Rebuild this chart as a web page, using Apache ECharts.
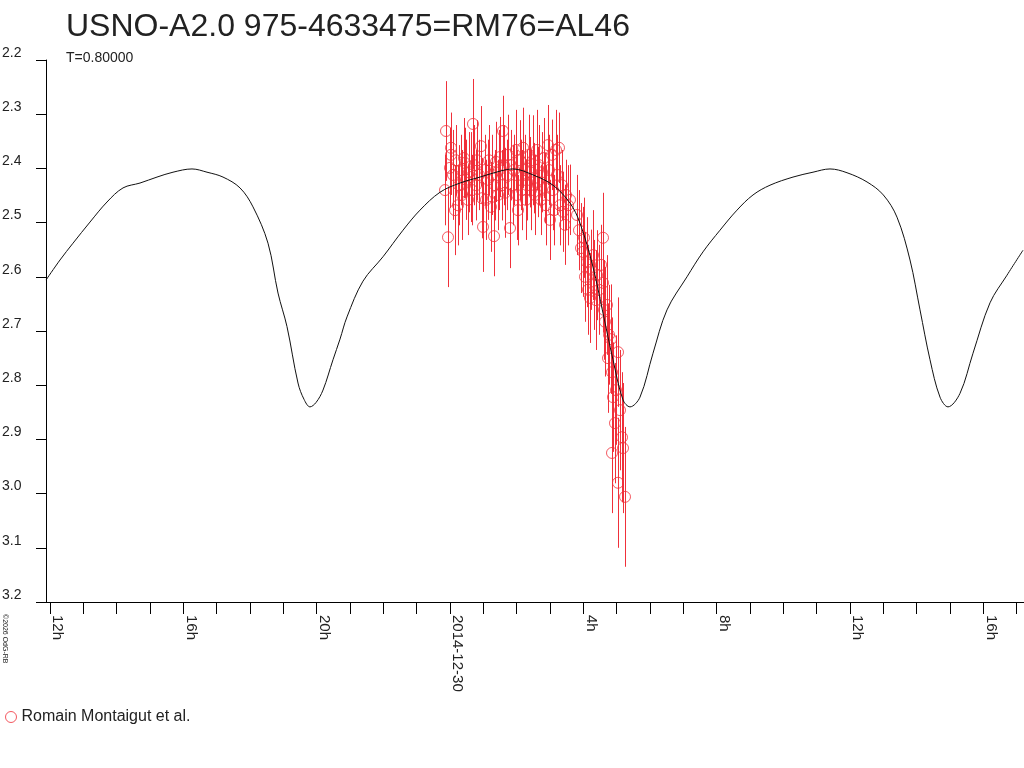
<!DOCTYPE html>
<html>
<head>
<meta charset="utf-8">
<title>USNO-A2.0 975-4633475 light curve</title>
<script src="https://cdn.jsdelivr.net/npm/echarts@6/dist/echarts.min.js"></script>
<style>
  html, body { margin: 0; padding: 0; background: #fff; }
  #main { width: 1024px; height: 768px; }
</style>
</head>
<body>
<div id="main"></div>
<script>
// time in hours since 2014-12-29 00:00 UT, magnitudes

// model light curve
var modelTime = [11.88, 12.30, 12.69, 13.20, 13.71, 14.19, 14.70, 15.21, 15.69, 16.26,
  16.71, 17.19, 17.70, 18.09, 18.54, 18.84, 19.11, 19.44, 19.62, 19.80,
  19.98, 20.19, 20.49, 20.70, 20.91, 21.39, 21.99, 22.59, 23.10, 23.70,
  24.30, 24.90, 25.50, 25.89, 26.49, 27.09, 27.60, 27.90, 28.29, 28.59,
  28.89, 29.19, 29.40, 29.70, 30.09, 30.51, 31.11, 31.59, 32.10, 32.61,
  33.09, 33.60, 34.29, 34.89, 35.40, 35.91, 36.51, 37.00, 37.41, 37.80,
  38.10, 38.40, 38.70, 38.94, 39.30, 39.69, 40.20, 40.71, 41.19];
var modelMag = [2.606, 2.569, 2.538, 2.499, 2.462, 2.436, 2.427, 2.416, 2.407, 2.401,
  2.407, 2.416, 2.436, 2.471, 2.538, 2.630, 2.692, 2.796, 2.826, 2.840,
  2.832, 2.809, 2.753, 2.715, 2.674, 2.608, 2.563, 2.514, 2.477, 2.444,
  2.427, 2.416, 2.405, 2.401, 2.412, 2.431, 2.464, 2.501, 2.582, 2.667,
  2.753, 2.827, 2.840, 2.822, 2.741, 2.661, 2.600, 2.554, 2.514, 2.477,
  2.449, 2.431, 2.416, 2.407, 2.401, 2.408, 2.425, 2.449, 2.490, 2.569,
  2.661, 2.753, 2.822, 2.840, 2.815, 2.741, 2.648, 2.597, 2.551];

// observations (Romain Montaigut et al.)
var obsTime = [23.85, 23.88, 23.94, 24.00, 24.03, 24.03, 24.09, 24.15, 24.18, 24.24,
  24.27, 24.33, 24.36, 24.42, 24.45, 24.48, 24.54, 24.57, 24.63, 24.66,
  24.69, 24.72, 24.78, 24.81, 24.87, 24.93, 24.96, 24.99, 25.05, 25.08,
  25.14, 25.17, 25.23, 25.26, 25.32, 25.35, 25.38, 25.44, 25.47, 25.50,
  25.56, 25.59, 25.62, 25.65, 25.71, 25.74, 25.80, 25.83,
  25.89, 25.92, 25.98, 26.01, 26.04, 26.10, 26.13, 26.16, 26.19, 26.25,
  26.28, 26.31, 26.37, 26.40, 26.43, 26.49, 26.52, 26.55, 26.61, 26.64,
  26.67, 26.73, 26.76, 26.82, 26.85, 26.88, 26.94, 26.97, 27.00, 27.06,
  27.09, 27.12, 27.18, 27.21, 27.27, 27.30, 27.36, 27.39, 27.45, 27.48,
  27.54, 27.60,
  27.81, 27.87, 27.93, 27.99, 28.02, 28.05, 28.11, 28.14, 28.20, 28.23,
  28.29, 28.32, 28.38, 28.41, 28.47, 28.53, 28.59, 28.59, 28.62, 28.65,
  28.71, 28.74, 28.77, 28.83, 28.86, 28.86, 28.89, 28.95, 28.98, 29.04,
  29.04, 29.10, 29.16, 29.19, 29.25];
var obsMag = [2.440, 2.331, 2.527, 2.399, 2.362, 2.375, 2.412, 2.477, 2.385, 2.468,
  2.431, 2.403, 2.449, 2.381, 2.390, 2.421, 2.458, 2.407, 2.416, 2.440,
  2.318, 2.394, 2.431, 2.385, 2.412, 2.359, 2.455, 2.508, 2.403, 2.458,
  2.421, 2.385, 2.471, 2.412, 2.525, 2.431, 2.388, 2.449, 2.403, 2.379,
  2.431, 2.331, 2.394, 2.445, 2.412, 2.375, 2.510, 2.394,
  2.431, 2.403, 2.366, 2.449, 2.477, 2.385, 2.412, 2.440, 2.362, 2.403,
  2.458, 2.431, 2.375, 2.407, 2.440, 2.385, 2.418, 2.449, 2.366, 2.425,
  2.394, 2.458, 2.407, 2.381, 2.436, 2.468, 2.357, 2.403, 2.495, 2.375,
  2.440, 2.477, 2.366, 2.412, 2.362, 2.468, 2.431, 2.480, 2.504, 2.449,
  2.468, 2.458,
  2.486, 2.514, 2.547, 2.554, 2.528, 2.600, 2.573, 2.624, 2.639, 2.587,
  2.560, 2.615, 2.643, 2.597, 2.624, 2.578, 2.528, 2.611, 2.661, 2.683,
  2.652, 2.750, 2.707, 2.715, 2.776, 2.925, 2.822, 2.870, 2.809, 2.739,
  2.980, 2.846, 2.896, 2.916, 3.006];
var obsErr = [0.065, 0.092, 0.092, 0.074, 0.065, 0.074, 0.083, 0.083, 0.065, 0.074,
  0.074, 0.065, 0.083, 0.074, 0.065, 0.074, 0.065, 0.074, 0.083, 0.065,
  0.083, 0.074, 0.065, 0.074, 0.065, 0.074, 0.074, 0.083, 0.065, 0.074,
  0.074, 0.065, 0.083, 0.074, 0.074, 0.065, 0.074, 0.065, 0.074, 0.074,
  0.065, 0.065, 0.074, 0.083, 0.065, 0.074, 0.074, 0.065,
  0.074, 0.065, 0.074, 0.083, 0.065, 0.074, 0.065, 0.074, 0.074, 0.065,
  0.074, 0.065, 0.074, 0.065, 0.074, 0.083, 0.065, 0.074, 0.074, 0.065,
  0.074, 0.065, 0.074, 0.074, 0.065, 0.074, 0.074, 0.065, 0.074, 0.065,
  0.074, 0.065, 0.074, 0.074, 0.065, 0.074, 0.065, 0.074, 0.074, 0.065,
  0.074, 0.065,
  0.074, 0.074, 0.083, 0.083, 0.074, 0.083, 0.083, 0.083, 0.083, 0.074,
  0.083, 0.083, 0.092, 0.083, 0.083, 0.074, 0.083, 0.092, 0.092, 0.101,
  0.092, 0.101, 0.092, 0.101, 0.101, 0.111, 0.101, 0.111, 0.101, 0.101,
  0.120, 0.111, 0.120, 0.120, 0.129];

var labelHours = [12, 16, 20, 24, 28, 32, 36, 40];

var obsColor = '#f0303a';
var fontName = '"Liberation Sans", Arial, sans-serif';

var obsData = [], barData = [], modelData = [];
for (var i = 0; i < obsTime.length; i++) {
  obsData.push([obsTime[i], obsMag[i]]);
  barData.push([obsTime[i], obsMag[i], obsErr[i]]);
}
for (var i = 0; i < modelTime.length; i++) {
  modelData.push([modelTime[i], modelMag[i]]);
}

function hourLabel(v) {
  var r = Math.round(v);
  if (Math.abs(v - r) > 1e-6 || labelHours.indexOf(r) < 0) return '';
  if (r === 24) return '2014-12-30';
  return (r % 24) + 'h';
}

var chart = echarts.init(document.getElementById('main'));
chart.setOption({
  animation: false,
  backgroundColor: '#fff',
  textStyle: { fontFamily: fontName },
  title: [
    {
      text: 'USNO-A2.0 975-4633475=RM76=AL46',
      left: 66, top: 11, padding: 0,
      textStyle: { fontSize: 32, fontWeight: 'normal', color: '#222', fontFamily: fontName }
    },
    {
      text: 'T=0.80000',
      left: 66, top: 51, padding: 0,
      textStyle: { fontSize: 14, fontWeight: 'normal', color: '#222', fontFamily: fontName }
    }
  ],
  legend: {
    left: 0, top: 704,
    itemWidth: 11, itemHeight: 11,
    textStyle: { fontSize: 16, color: '#222', fontFamily: fontName },
    data: [{
      name: 'Romain Montaigut et al.',
      icon: 'circle',
      itemStyle: { color: 'transparent', borderColor: obsColor, borderWidth: 1 }
    }]
  },
  graphic: [{
    type: 'text',
    x: 1, y: 614,
    rotation: -Math.PI / 2,
    style: { text: '©2026 OdG-RB', fontSize: 7, fill: '#222', fontFamily: fontName, verticalAlign: 'bottom' }
  }],
  grid: { left: 46, right: 0, top: 60, bottom: 166, outerBoundsMode: 'none' },
  xAxis: {
    type: 'value',
    min: 11.88, max: 41.22,
    splitNumber: 30, minInterval: 1, maxInterval: 1,
    axisLine: { lineStyle: { color: '#000', width: 1 } },
    axisTick: { length: 12, lineStyle: { color: '#000', width: 1 } },
    splitLine: { show: false },
    axisLabel: {
      rotate: -90, margin: 13, align: 'left', verticalAlign: 'bottom',
      showMinLabel: false, showMaxLabel: false,
      fontSize: 15, color: '#222', fontFamily: fontName,
      formatter: hourLabel
    }
  },
  yAxis: {
    type: 'value',
    inverse: true,
    min: 2.2, max: 3.2, interval: 0.1,
    axisLine: { show: true, lineStyle: { color: '#000', width: 1 } },
    axisTick: { show: true, length: 10, lineStyle: { color: '#000', width: 1 } },
    splitLine: { show: false },
    axisLabel: {
      margin: 44, align: 'left', verticalAlign: 'bottom',
      fontSize: 14, color: '#222', fontFamily: fontName,
      formatter: function (v) { return v.toFixed(1); }
    }
  },
  series: [
    {
      name: 'errbars',
      type: 'custom',
      z: 1,
      silent: true,
      data: barData,
      renderItem: function (params, api) {
        var t = api.value(0), m = api.value(1), e = api.value(2);
        var p1 = api.coord([t, m - e]);
        var p2 = api.coord([t, m + e]);
        var x = Math.round(p1[0]) + 0.5;
        return {
          type: 'line',
          shape: { x1: x, y1: p1[1], x2: x, y2: p2[1] },
          style: { stroke: obsColor, lineWidth: 1 }
        };
      }
    },
    {
      name: 'Romain Montaigut et al.',
      type: 'scatter',
      z: 2,
      symbol: 'circle',
      symbolSize: 11,
      itemStyle: { color: 'transparent', borderColor: obsColor, borderWidth: 1 },
      data: obsData
    },
    {
      name: 'model',
      type: 'line',
      z: 3,
      showSymbol: false,
      symbol: 'none',
      smooth: 0.35,
      lineStyle: { color: '#111', width: 1 },
      data: modelData
    }
  ]
});
</script>
</body>
</html>
